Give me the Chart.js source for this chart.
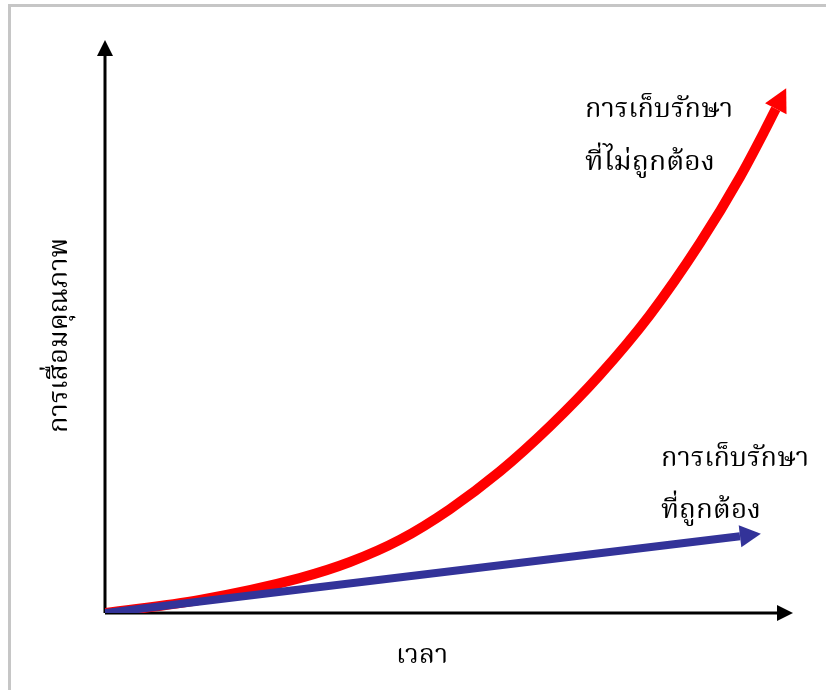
<!DOCTYPE html>
<html>
<head>
<meta charset="utf-8">
<script src="https://cdn.jsdelivr.net/npm/chart.js@4.4.1/dist/chart.umd.min.js"></script>
<style>
  html, body { margin: 0; padding: 0; background: #fff; overflow: hidden; }
  #wrap { position: relative; width: 826px; height: 690px; overflow: hidden; }
  #frame { position: absolute; left: 8px; top: 4px; width: 900px; height: 900px;
           border-top: 3px solid #c6c6c6; border-left: 3px solid #c6c6c6; box-sizing: border-box; }
  canvas { position: absolute; left: 0; top: 0; }
</style>
</head>
<body>
<div id="wrap">
  <div id="frame"></div>
  <canvas id="c" width="826" height="690"></canvas>
</div>
<script>
// Time axis positions (0-100) and quality-loss levels (0-100)
const improperTime = [0, 13.8, 28.3, 35.6, 42.9, 50.1, 57.4, 64.7, 71.9, 79.2, 86.5, 92.3, 95.9, 97.5];
const improperLoss = [0, 2.3, 6.1, 8.9, 12.8, 18.1, 24.7, 32.6, 41.5, 52.0, 64.6, 76.1, 84.2, 88.0];
const properTime = [0, 92.3];
const properLoss = [0, 13.4];

const improperLabel = ['การเก็บรักษา', 'ที่ไม่ถูกต้อง'];
const properLabel = ['การเก็บรักษา', 'ที่ถูกต้อง'];
const xTitle = 'เวลา';
const yTitle = 'การเสื่อมคุณภาพ';

const toPoints = (xs, ys) => xs.map((x, i) => ({ x: x, y: ys[i] }));

const THAI_FONT = '"Noto Serif Thai", "Noto Sans Thai", "Loma", "Garuda", "Norasi", "Kinnari", "DejaVu Sans", sans-serif';

function arrowHead(ctx, fromX, fromY, tipX, tipY, len, width, color) {
  const dx = tipX - fromX, dy = tipY - fromY;
  const d = Math.hypot(dx, dy);
  const ux = dx / d, uy = dy / d;
  const bx = tipX - ux * len, by = tipY - uy * len;
  ctx.beginPath();
  ctx.moveTo(tipX, tipY);
  ctx.lineTo(bx - uy * width / 2, by + ux * width / 2);
  ctx.lineTo(bx + uy * width / 2, by - ux * width / 2);
  ctx.closePath();
  ctx.fillStyle = color;
  ctx.fill();
}

// Arrowhead continuing past the last point of a dataset, along its final segment
function seriesArrow(chart, dsIndex, len, width, color) {
  const pts = chart.getDatasetMeta(dsIndex).data;
  const a = pts[pts.length - 2], b = pts[pts.length - 1];
  const dx = b.x - a.x, dy = b.y - a.y, d = Math.hypot(dx, dy);
  const tipX = b.x + dx / d * len, tipY = b.y + dy / d * len;
  arrowHead(chart.ctx, b.x, b.y, tipX, tipY, len, width, color);
}

function thaiText(ctx, text, x, y, size, targetWidth, rotate) {
  ctx.save();
  ctx.font = size + 'px ' + THAI_FONT;
  ctx.fillStyle = '#000';
  ctx.textBaseline = 'alphabetic';
  ctx.textAlign = 'left';
  ctx.translate(x, y);
  if (rotate) ctx.rotate(rotate);
  const w = ctx.measureText(text).width;
  const sx = targetWidth ? targetWidth / w : 1;
  ctx.scale(sx, 1);
  ctx.fillText(text, 0, 0);
  ctx.restore();
}

const axesPlugin = {
  id: 'arrowAxes',
  beforeDatasetsDraw(chart) {
    const { ctx, chartArea, scales } = chart;
    const ox = scales.x.getPixelForValue(0);
    const oy = scales.y.getPixelForValue(0);
    ctx.save();
    ctx.strokeStyle = '#000';
    ctx.lineWidth = 3;
    ctx.beginPath();
    ctx.moveTo(ox, oy);
    ctx.lineTo(chartArea.right - 15, oy);
    ctx.moveTo(ox, oy);
    ctx.lineTo(ox, chartArea.top + 15);
    ctx.stroke();
    arrowHead(ctx, ox, oy, chartArea.right, oy, 16, 16, '#000');
    arrowHead(ctx, ox, oy, ox, chartArea.top, 16, 16, '#000');
    ctx.restore();
  },
  afterDatasetsDraw(chart) {
    const ctx = chart.ctx;
    seriesArrow(chart, 0, 21, 22, '#333399');
    seriesArrow(chart, 1, 23, 24, '#ff0000');
    thaiText(ctx, improperLabel[0], 585, 117, 26, 148);
    thaiText(ctx, improperLabel[1], 585, 170, 26, 130);
    thaiText(ctx, properLabel[0], 661, 466, 26, 148);
    thaiText(ctx, properLabel[1], 661, 518, 26, 100);
    thaiText(ctx, xTitle, 396, 663, 26, 52);
    thaiText(ctx, yTitle, 67, 433, 26, 195, -Math.PI / 2);
  }
};

new Chart(document.getElementById('c'), {
  type: 'scatter',
  data: {
    datasets: [
      {
        label: properLabel.join(''),
        data: toPoints(properTime, properLoss),
        showLine: true,
        borderColor: '#333399',
        borderWidth: 8,
        borderCapStyle: 'butt',
        pointRadius: 0,
        fill: false
      },
      {
        label: improperLabel.join(''),
        data: toPoints(improperTime, improperLoss),
        showLine: true,
        borderColor: '#ff0000',
        borderWidth: 10,
        borderCapStyle: 'butt',
        borderJoinStyle: 'round',
        cubicInterpolationMode: 'monotone',
        pointRadius: 0,
        fill: false
      }
    ]
  },
  options: {
    responsive: false,
    animation: false,
    layout: { padding: { left: 105, right: 33, top: 40, bottom: 77 } },
    plugins: { legend: { display: false }, tooltip: { enabled: false } },
    scales: {
      x: { type: 'linear', min: 0, max: 100, display: false },
      y: { type: 'linear', min: 0, max: 100, display: false }
    }
  },
  plugins: [axesPlugin]
});
</script>
</body>
</html>
